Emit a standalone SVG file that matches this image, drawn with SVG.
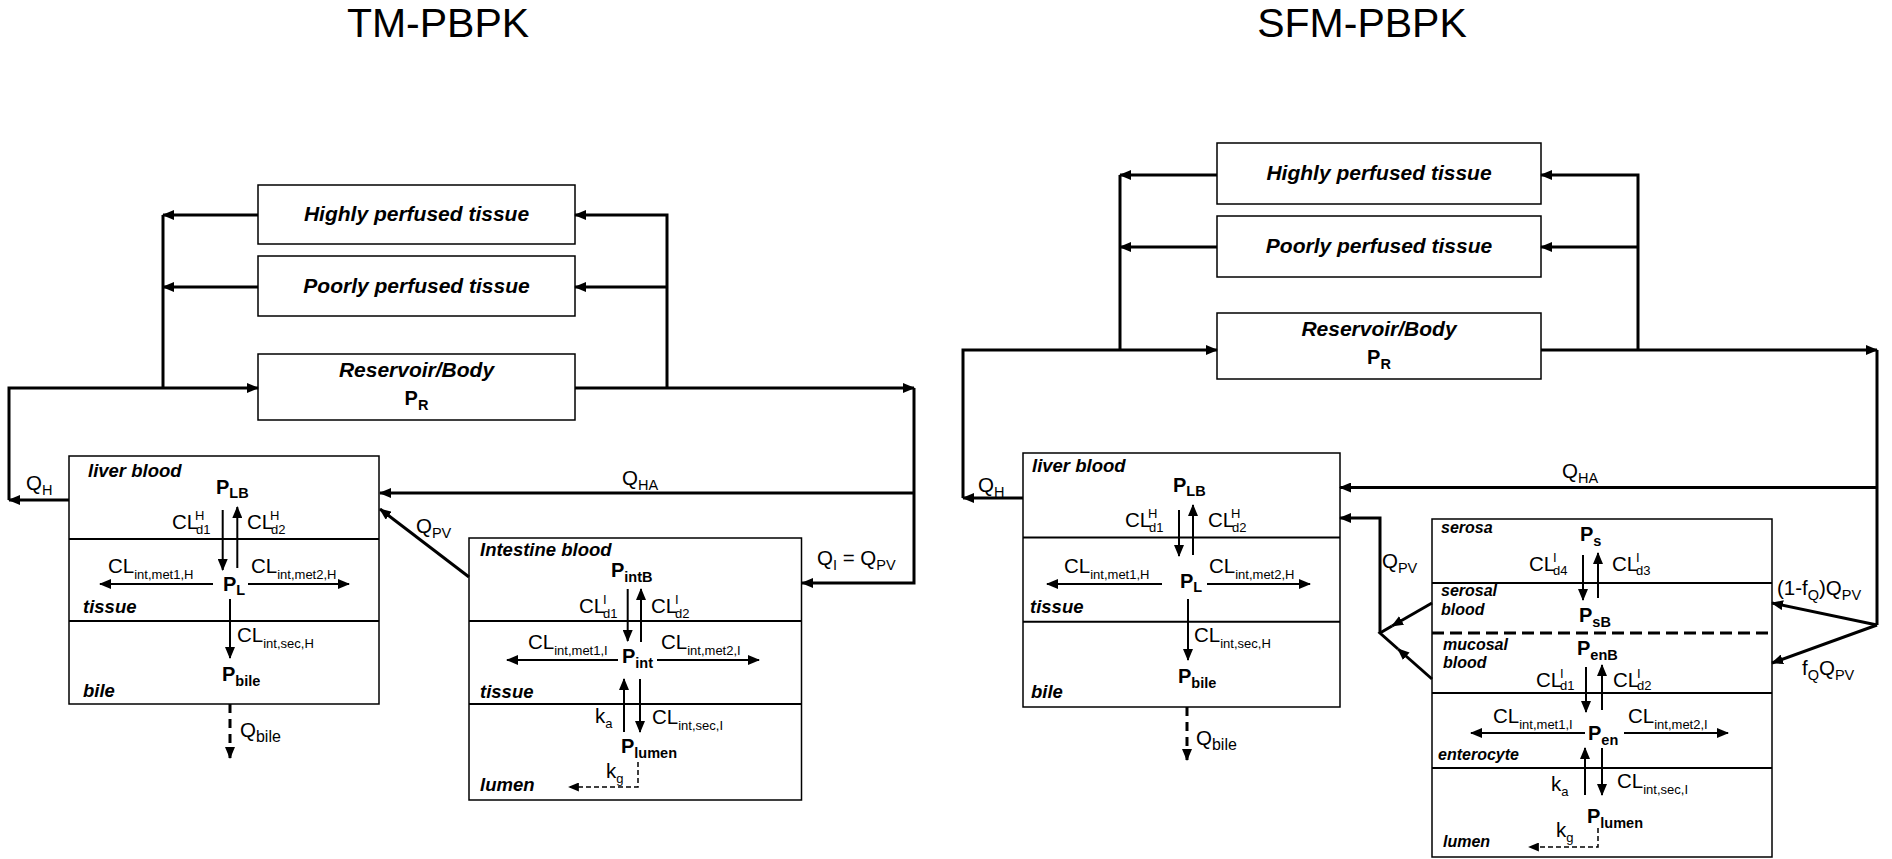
<svg xmlns="http://www.w3.org/2000/svg" width="1892" height="859" viewBox="0 0 1892 859">
<defs>
<marker id="ah" markerUnits="userSpaceOnUse" viewBox="0 0 12 10" refX="11" refY="5" markerWidth="12" markerHeight="10" orient="auto"><path d="M0,0 L12,5 L0,10 z" fill="#000"/></marker>
<marker id="ahs" markerUnits="userSpaceOnUse" viewBox="0 0 12 10" refX="11" refY="5" markerWidth="11" markerHeight="9" orient="auto"><path d="M0,0 L12,5 L0,10 z" fill="#000"/></marker>
</defs>
<style>
text{font-family:"Liberation Sans",Arial,sans-serif;fill:#000}
.t{font-size:41px;text-anchor:middle}
.bx{font-size:21px;font-weight:bold;font-style:italic;text-anchor:middle}
.cm{font-size:18.5px;font-weight:bold;font-style:italic}
.cm2{font-size:16px;font-weight:bold;font-style:italic}
.lab{font-size:20.5px}
.s{font-size:14.5px}
.s2{font-size:13px}
.sb{font-size:16px}
.p{font-size:20px;font-weight:bold}
.ps{font-size:14.5px;font-weight:bold}
.box{fill:#fff;stroke:#000;stroke-width:1.5}
.div{stroke:#000;stroke-width:2;fill:none}
.main{stroke:#000;stroke-width:3;fill:none}
.ar{stroke:#000;stroke-width:2;fill:none}
.dsh{stroke:#000;stroke-width:3;fill:none;stroke-dasharray:9 6}
.dshs{stroke:#000;stroke-width:1.5;fill:none;stroke-dasharray:5 3}
</style>
<rect width="1892" height="859" fill="#fff"/>

<text class="t" x="438" y="37">TM-PBPK</text>
<text class="t" x="1362" y="37">SFM-PBPK</text>

<!-- ================= TM-PBPK ================= -->
<g id="tm-highly"><rect class="box" x="258" y="185" width="317" height="59"/><text class="bx" x="416.5" y="221">Highly perfused tissue</text></g>
<g id="tm-poorly"><rect class="box" x="258" y="256" width="317" height="60"/><text class="bx" x="416.5" y="293">Poorly perfused tissue</text></g>
<g id="tm-reservoir"><rect class="box" x="258" y="354" width="317" height="66"/><text class="bx" x="416.5" y="377">Reservoir/Body</text><text class="p" x="416.5" y="405" text-anchor="middle">P<tspan class="ps" dy="5">R</tspan></text></g>

<g id="tm-liver">
<rect class="box" x="69" y="456" width="310" height="248"/>
<line class="div" x1="69" y1="539" x2="379" y2="539"/>
<line class="div" x1="69" y1="621" x2="379" y2="621"/>
<text class="cm" x="88" y="477">liver blood</text>
<text class="p" x="216" y="494">P<tspan class="ps" dy="4">LB</tspan></text>
<text class="lab" x="172" y="529">CL<tspan class="s2" x="195" dy="-9">H</tspan><tspan class="s2" x="196" dy="14">d1</tspan></text>
<text class="lab" x="247" y="529">CL<tspan class="s2" x="270" dy="-9">H</tspan><tspan class="s2" x="271" dy="14">d2</tspan></text>
<path class="ar" d="M222.7,510 V570" marker-end="url(#ah)"/>
<path class="ar" d="M237.3,568 V507" marker-end="url(#ah)"/>
<text class="lab" x="108" y="573">CL<tspan class="s2" dy="6">int,met1,H</tspan></text>
<text class="lab" x="251" y="573">CL<tspan class="s2" dy="6">int,met2,H</tspan></text>
<path class="ar" d="M213,584 H100" marker-end="url(#ah)"/>
<path class="ar" d="M248,584 H349" marker-end="url(#ah)"/>
<text class="p" x="223" y="591">P<tspan class="ps" dy="4">L</tspan></text>
<text class="cm" x="83" y="613">tissue</text>
<path class="ar" d="M230,599 V658" marker-end="url(#ah)"/>
<text class="lab" x="237" y="642">CL<tspan class="s2" dy="6">int,sec,H</tspan></text>
<text class="p" x="222" y="681">P<tspan class="ps" dy="5">bile</tspan></text>
<text class="cm" x="83" y="697">bile</text>
</g>

<g id="tm-intestine">
<rect class="box" x="469" y="538" width="332.5" height="262"/>
<line class="div" x1="469" y1="621" x2="801.5" y2="621"/>
<line class="div" x1="469" y1="704" x2="801.5" y2="704"/>
<text class="cm" x="480" y="556">Intestine blood</text>
<text class="p" x="611" y="577">P<tspan class="ps" dy="5">intB</tspan></text>
<path class="ar" d="M627.7,589 V641" marker-end="url(#ah)"/>
<path class="ar" d="M641,642 V589" marker-end="url(#ah)"/>
<text class="lab" x="579" y="613">CL<tspan class="s2" x="603" dy="-9">I</tspan><tspan class="s2" x="603" dy="14">d1</tspan></text>
<text class="lab" x="651" y="613">CL<tspan class="s2" x="675" dy="-9">I</tspan><tspan class="s2" x="675" dy="14">d2</tspan></text>
<text class="lab" x="528" y="649">CL<tspan class="s2" dy="6">int,met1,I</tspan></text>
<text class="lab" x="661" y="649">CL<tspan class="s2" dy="6">int,met2,I</tspan></text>
<path class="ar" d="M618,660 H507" marker-end="url(#ah)"/>
<path class="ar" d="M657,660 H759" marker-end="url(#ah)"/>
<text class="p" x="622" y="663">P<tspan class="ps" dy="5">int</tspan></text>
<text class="cm" x="480" y="698">tissue</text>
<path class="ar" d="M624,732 V679" marker-end="url(#ah)"/>
<path class="ar" d="M640,679 V732" marker-end="url(#ah)"/>
<text class="lab" x="595" y="723">k<tspan class="s2" dy="5">a</tspan></text>
<text class="lab" x="652" y="724">CL<tspan class="s2" dy="6">int,sec,I</tspan></text>
<text class="p" x="621" y="753">P<tspan class="ps" dy="5">lumen</tspan></text>
<path class="dshs" d="M638,762 V787 H569" marker-end="url(#ahs)"/>
<text class="lab" x="606" y="778">k<tspan class="s2" dy="5">g</tspan></text>
<text class="cm" x="480" y="791">lumen</text>
</g>

<g id="tm-connectors">
<path class="main" d="M9,500 V388 H258" marker-end="url(#ah)"/>
<path class="main" d="M163,388 V215"/>
<path class="main" d="M258,215 H163" marker-end="url(#ah)"/>
<path class="main" d="M258,287 H163" marker-end="url(#ah)"/>
<path class="main" d="M575,388 H914" marker-end="url(#ah)"/>
<path class="main" d="M667,388 V215 H575" marker-end="url(#ah)"/>
<path class="main" d="M667,287 H575" marker-end="url(#ah)"/>
<path class="main" d="M914,388 V583 H802" marker-end="url(#ah)"/>
<path class="main" d="M914,493 H380" marker-end="url(#ah)"/>
<path class="main" d="M69,500 H9" marker-end="url(#ah)"/>
<path class="main" d="M469,577 L380,509" marker-end="url(#ah)"/>
<path class="dsh" d="M230,704 V758" marker-end="url(#ah)"/>
<text class="lab" x="26" y="490">Q<tspan class="s" dy="5">H</tspan></text>
<text class="lab" x="622" y="485">Q<tspan class="s" dy="5">HA</tspan></text>
<text class="lab" x="416" y="533">Q<tspan class="s" dy="5">PV</tspan></text>
<text class="lab" x="817" y="565">Q<tspan class="s" dy="5">I</tspan><tspan dy="-5"> = Q</tspan><tspan class="s" dy="5">PV</tspan></text>
<text class="lab" x="240" y="737">Q<tspan class="sb" dy="5">bile</tspan></text>
</g>

<!-- ================= SFM-PBPK ================= -->
<g id="sfm-highly"><rect class="box" x="1217" y="143" width="324" height="61"/><text class="bx" x="1379" y="180">Highly perfused tissue</text></g>
<g id="sfm-poorly"><rect class="box" x="1217" y="216" width="324" height="61"/><text class="bx" x="1379" y="253">Poorly perfused tissue</text></g>
<g id="sfm-reservoir"><rect class="box" x="1217" y="313" width="324" height="66"/><text class="bx" x="1379" y="336">Reservoir/Body</text><text class="p" x="1379" y="364" text-anchor="middle">P<tspan class="ps" dy="5">R</tspan></text></g>

<g id="sfm-liver">
<rect class="box" x="1023" y="453" width="317" height="254"/>
<line class="div" x1="1023" y1="537.5" x2="1340" y2="537.5"/>
<line class="div" x1="1023" y1="621.7" x2="1340" y2="621.7"/>
<text class="cm" x="1032" y="472">liver blood</text>
<text class="p" x="1173" y="492">P<tspan class="ps" dy="4">LB</tspan></text>
<path class="ar" d="M1179,510 V556" marker-end="url(#ah)"/>
<path class="ar" d="M1193,555 V505" marker-end="url(#ah)"/>
<text class="lab" x="1125" y="527">CL<tspan class="s2" x="1148" dy="-9">H</tspan><tspan class="s2" x="1149" dy="14">d1</tspan></text>
<text class="lab" x="1208" y="527">CL<tspan class="s2" x="1231" dy="-9">H</tspan><tspan class="s2" x="1232" dy="14">d2</tspan></text>
<text class="lab" x="1064" y="573">CL<tspan class="s2" dy="6">int,met1,H</tspan></text>
<text class="lab" x="1209" y="573">CL<tspan class="s2" dy="6">int,met2,H</tspan></text>
<path class="ar" d="M1162,584 H1047" marker-end="url(#ah)"/>
<path class="ar" d="M1207,584 H1310" marker-end="url(#ah)"/>
<text class="p" x="1180" y="588">P<tspan class="ps" dy="4">L</tspan></text>
<text class="cm" x="1030" y="613">tissue</text>
<path class="ar" d="M1188,599 V660" marker-end="url(#ah)"/>
<text class="lab" x="1194" y="642">CL<tspan class="s2" dy="6">int,sec,H</tspan></text>
<text class="p" x="1178" y="683">P<tspan class="ps" dy="5">bile</tspan></text>
<text class="cm" x="1031" y="698">bile</text>
</g>

<g id="sfm-intestine">
<rect class="box" x="1432" y="519" width="340" height="338"/>
<line class="div" x1="1432" y1="583" x2="1772" y2="583"/>
<line class="dsh" x1="1432" y1="633" x2="1772" y2="633" style="stroke-dasharray:12 6"/>
<line class="div" x1="1432" y1="693" x2="1772" y2="693"/>
<line class="div" x1="1432" y1="768" x2="1772" y2="768"/>
<text class="cm2" x="1441" y="533">serosa</text>
<text class="p" x="1580" y="541">P<tspan class="ps" dy="5">s</tspan></text>
<path class="ar" d="M1583,555 V600" marker-end="url(#ah)"/>
<path class="ar" d="M1598,598 V553" marker-end="url(#ah)"/>
<text class="lab" x="1529" y="571">CL<tspan class="s2" x="1553" dy="-9">I</tspan><tspan class="s2" x="1553" dy="13">d4</tspan></text>
<text class="lab" x="1612" y="571">CL<tspan class="s2" x="1636" dy="-9">I</tspan><tspan class="s2" x="1636" dy="13">d3</tspan></text>
<text class="cm2" x="1441" y="596">serosal</text>
<text class="cm2" x="1441" y="615">blood</text>
<text class="p" x="1579" y="622">P<tspan class="ps" dy="5">sB</tspan></text>
<text class="cm2" x="1443" y="650">mucosal</text>
<text class="cm2" x="1443" y="668">blood</text>
<text class="p" x="1577" y="655">P<tspan class="ps" dy="5">enB</tspan></text>
<path class="ar" d="M1586,667 V712" marker-end="url(#ah)"/>
<path class="ar" d="M1602,710 V665" marker-end="url(#ah)"/>
<text class="lab" x="1536" y="687">CL<tspan class="s2" x="1560" dy="-9">I</tspan><tspan class="s2" x="1560" dy="12">d1</tspan></text>
<text class="lab" x="1613" y="687">CL<tspan class="s2" x="1637" dy="-9">I</tspan><tspan class="s2" x="1637" dy="12">d2</tspan></text>
<text class="lab" x="1493" y="723">CL<tspan class="s2" dy="6">int,met1,I</tspan></text>
<text class="lab" x="1628" y="723">CL<tspan class="s2" dy="6">int,met2,I</tspan></text>
<path class="ar" d="M1585,733 H1471" marker-end="url(#ah)"/>
<path class="ar" d="M1624,733 H1728" marker-end="url(#ah)"/>
<text class="p" x="1588" y="740">P<tspan class="ps" dy="5">en</tspan></text>
<text class="cm2" x="1438" y="760">enterocyte</text>
<path class="ar" d="M1585,795 V748" marker-end="url(#ah)"/>
<path class="ar" d="M1602,748 V795" marker-end="url(#ah)"/>
<text class="lab" x="1551" y="791">k<tspan class="s2" dy="5">a</tspan></text>
<text class="lab" x="1617" y="788">CL<tspan class="s2" dy="6">int,sec,I</tspan></text>
<text class="p" x="1587" y="823">P<tspan class="ps" dy="5">lumen</tspan></text>
<path class="dshs" d="M1598,828 V847 H1529" marker-end="url(#ahs)"/>
<text class="lab" x="1556" y="837">k<tspan class="s2" dy="5">g</tspan></text>
<text class="cm2" x="1443" y="847">lumen</text>
</g>

<g id="sfm-connectors">
<path class="main" d="M963,498 V350 H1217" marker-end="url(#ah)"/>
<path class="main" d="M1120,350 V175"/>
<path class="main" d="M1217,175 H1120" marker-end="url(#ah)"/>
<path class="main" d="M1217,247 H1120" marker-end="url(#ah)"/>
<path class="main" d="M1541,350 H1877" marker-end="url(#ah)"/>
<path class="main" d="M1638,350 V175 H1541" marker-end="url(#ah)"/>
<path class="main" d="M1638,247 H1541" marker-end="url(#ah)"/>
<path class="main" d="M1877,350 V625"/>
<path class="main" d="M1877,487.5 H1340" marker-end="url(#ah)"/>
<path class="main" d="M1023,498 H963" marker-end="url(#ah)"/>
<path class="main" d="M1877,625 L1772,603" marker-end="url(#ah)"/>
<path class="main" d="M1877,625 L1772,663" marker-end="url(#ah)"/>
<path class="main" d="M1380,633 V518 H1340" marker-end="url(#ah)"/>
<path class="main" d="M1392,626 L1380,633 L1398,649"/>
<path class="main" d="M1432,603 L1392,626" marker-end="url(#ah)"/>
<path class="main" d="M1432,679 L1398,649" marker-end="url(#ah)"/>
<path class="dsh" d="M1187,707 V760" marker-end="url(#ah)"/>
<text class="lab" x="978" y="492">Q<tspan class="s" dy="5">H</tspan></text>
<text class="lab" x="1562" y="478">Q<tspan class="s" dy="5">HA</tspan></text>
<text class="lab" x="1382" y="568">Q<tspan class="s" dy="5">PV</tspan></text>
<text class="lab" x="1196" y="745">Q<tspan class="sb" dy="5">bile</tspan></text>
<text class="lab" x="1777" y="595">(1-f<tspan class="s" dy="5">Q</tspan><tspan dy="-5">)Q</tspan><tspan class="s" dy="5">PV</tspan></text>
<text class="lab" x="1802" y="675">f<tspan class="s" dy="5">Q</tspan><tspan dy="-5">Q</tspan><tspan class="s" dy="5">PV</tspan></text>
</g>
</svg>
